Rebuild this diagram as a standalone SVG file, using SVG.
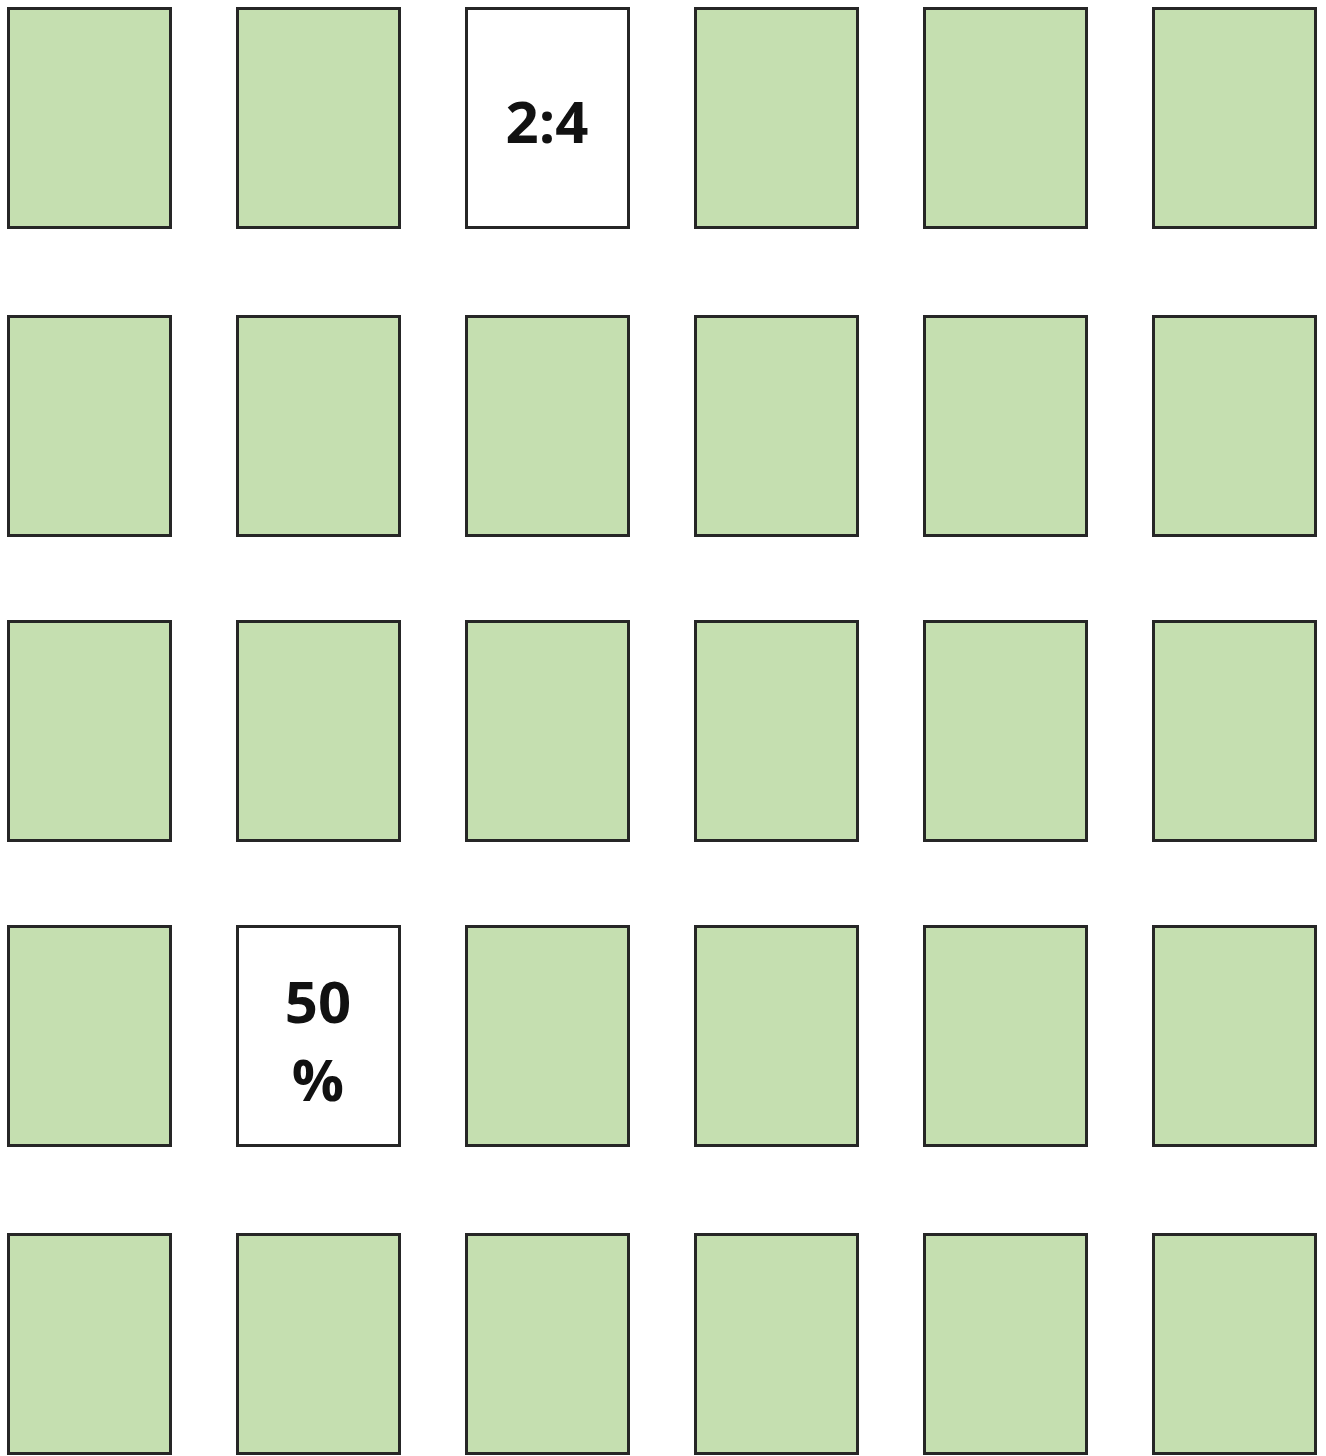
<svg xmlns="http://www.w3.org/2000/svg" width="1326" height="1456" viewBox="0 0 1326 1456">
<style>
.box{fill:#c5dfb0;stroke:#262626;stroke-width:3}
.w{fill:#ffffff;stroke:#262626;stroke-width:3}
.t{font-family:"Open Sans","Liberation Sans",sans-serif;font-weight:bold;font-size:58px;fill:#111;text-anchor:middle}
</style>
<rect width="1326" height="1456" fill="#ffffff"/>
<g id="r1c1"><rect class="box" x="8.5" y="8.5" width="162" height="219"/></g>
<g id="r1c2"><rect class="box" x="237.5" y="8.5" width="162" height="219"/></g>
<g id="r1c3"><rect class="w" x="466.5" y="8.5" width="162" height="219"/><text class="t" x="547" y="143">2:4</text></g>
<g id="r1c4"><rect class="box" x="695.5" y="8.5" width="162" height="219"/></g>
<g id="r1c5"><rect class="box" x="924.5" y="8.5" width="162" height="219"/></g>
<g id="r1c6"><rect class="box" x="1153.5" y="8.5" width="162" height="219"/></g>

<g id="r2c1"><rect class="box" x="8.5" y="316.5" width="162" height="219"/></g>
<g id="r2c2"><rect class="box" x="237.5" y="316.5" width="162" height="219"/></g>
<g id="r2c3"><rect class="box" x="466.5" y="316.5" width="162" height="219"/></g>
<g id="r2c4"><rect class="box" x="695.5" y="316.5" width="162" height="219"/></g>
<g id="r2c5"><rect class="box" x="924.5" y="316.5" width="162" height="219"/></g>
<g id="r2c6"><rect class="box" x="1153.5" y="316.5" width="162" height="219"/></g>

<g id="r3c1"><rect class="box" x="8.5" y="621.5" width="162" height="219"/></g>
<g id="r3c2"><rect class="box" x="237.5" y="621.5" width="162" height="219"/></g>
<g id="r3c3"><rect class="box" x="466.5" y="621.5" width="162" height="219"/></g>
<g id="r3c4"><rect class="box" x="695.5" y="621.5" width="162" height="219"/></g>
<g id="r3c5"><rect class="box" x="924.5" y="621.5" width="162" height="219"/></g>
<g id="r3c6"><rect class="box" x="1153.5" y="621.5" width="162" height="219"/></g>

<g id="r4c1"><rect class="box" x="8.5" y="926.5" width="162" height="219"/></g>
<g id="r4c2"><rect class="w" x="237.5" y="926.5" width="162" height="219"/><text class="t" x="318" y="1023">50</text><text class="t" x="318" y="1101">%</text></g>
<g id="r4c3"><rect class="box" x="466.5" y="926.5" width="162" height="219"/></g>
<g id="r4c4"><rect class="box" x="695.5" y="926.5" width="162" height="219"/></g>
<g id="r4c5"><rect class="box" x="924.5" y="926.5" width="162" height="219"/></g>
<g id="r4c6"><rect class="box" x="1153.5" y="926.5" width="162" height="219"/></g>

<g id="r5c1"><rect class="box" x="8.5" y="1234.5" width="162" height="219"/></g>
<g id="r5c2"><rect class="box" x="237.5" y="1234.5" width="162" height="219"/></g>
<g id="r5c3"><rect class="box" x="466.5" y="1234.5" width="162" height="219"/></g>
<g id="r5c4"><rect class="box" x="695.5" y="1234.5" width="162" height="219"/></g>
<g id="r5c5"><rect class="box" x="924.5" y="1234.5" width="162" height="219"/></g>
<g id="r5c6"><rect class="box" x="1153.5" y="1234.5" width="162" height="219"/></g>
<g id="connectors"></g>
</svg>
